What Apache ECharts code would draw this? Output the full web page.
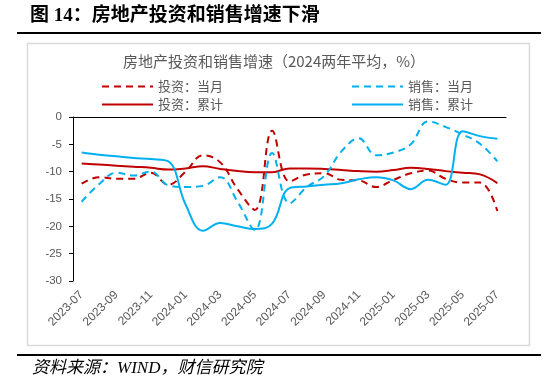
<!DOCTYPE html>
<html>
<head>
<meta charset="utf-8">
<script src="https://cdn.jsdelivr.net/npm/echarts@6/dist/echarts.min.js"></script>
<style>
html,body{margin:0;padding:0;background:#fff;}
#c{width:550px;height:385px;}
</style>
</head>
<body>
<div id="c"></div>
<script>
const months = ['2023-07','2023-08','2023-09','2023-10','2023-11','2023-12','2024-01','2024-02','2024-03','2024-04','2024-05','2024-06','2024-07','2024-08','2024-09','2024-10','2024-11','2024-12','2025-01','2025-02','2025-03','2025-04','2025-05','2025-06','2025-07'];
const invMonth = [-12.2,-11.0,-11.3,-11.3,-10.2,-12.4,-10.0,-7.0,-8.3,-13.2,-17.0,-2.5,-11.8,-10.5,-10.3,-11.5,-11.6,-12.8,-11.5,-10.3,-9.8,-11.3,-12.0,-12.0,-17.2];
const salesMonth = [-15.5,-12.3,-10.2,-10.7,-10.0,-12.5,-12.8,-12.6,-11.0,-15.5,-20.7,-6.6,-15.8,-12.8,-10.8,-6.3,-3.9,-7.0,-6.5,-5.0,-0.8,-1.8,-3.2,-4.9,-8.1];
const invCum = [-8.5,-8.7,-8.9,-9.1,-9.3,-9.6,-9.4,-9.0,-9.5,-9.9,-10.1,-10.1,-9.4,-9.4,-9.5,-9.7,-9.9,-10.0,-9.7,-9.3,-9.5,-9.9,-10.2,-10.5,-12.1];
const salesCum = [-6.5,-6.9,-7.2,-7.5,-7.7,-8.1,-16.0,-20.8,-19.4,-20.0,-20.5,-19.5,-13.0,-12.7,-12.4,-12.1,-11.4,-11.0,-11.6,-13.2,-11.5,-12.4,-2.6,-3.5,-4.0];
const seriesNames = ['投资：当月','投资：累计','销售：当月','销售：累计'];
const headingText = '图 14：房地产投资和销售增速下滑';
const chartTitle = '房地产投资和销售增速（2024两年平均，%）';
const sourceText = '资料来源：WIND，财信研究院';

const RED = '#C00000', BLUE = '#00B0F0';
const CJK = '"Noto Sans CJK SC", sans-serif';
const chart = echarts.init(document.getElementById('c'), null, {renderer:'canvas'});
const legendText = {color:'#595959', fontSize:13, fontFamily:CJK};
chart.setOption({
  animation:false,
  backgroundColor:'#fff',
  grid:{left:73, right:44, top:117, bottom:104, containLabel:false},
  graphic:[
    {type:'text', left:30, top:7, style:{text:headingText, font:'bold 19px "Liberation Serif", "Noto Sans CJK SC"', fill:'#000'}},
    {type:'line', shape:{x1:17,y1:33,x2:541,y2:33}, style:{stroke:'#000', lineWidth:2}},
    {type:'rect', shape:{x:27.5,y:43.5,width:502,height:302}, style:{fill:'none', stroke:'#d9d9d9', lineWidth:1.5}, z:-1},
    {type:'text', x:274, y:61, style:{text:chartTitle, font:'15px "Noto Sans CJK SC"', fill:'#595959', textAlign:'center', textVerticalAlign:'middle'}},
    {type:'line', shape:{x1:17,y1:355,x2:541,y2:355}, style:{stroke:'#000', lineWidth:2}},
    {type:'text', x:32, y:369, style:{text:sourceText, font:'italic 17px "Liberation Serif", "Noto Sans CJK SC"', fill:'#000', textVerticalAlign:'middle'}}
  ],
  legend:[
    {data:[seriesNames[0],seriesNames[1]], orient:'vertical', left:96, top:75, itemWidth:51, itemHeight:14, itemGap:5, textStyle:legendText, itemStyle:{opacity:0}},
    {data:[seriesNames[2],seriesNames[3]], orient:'vertical', left:346, top:75, itemWidth:51, itemHeight:14, itemGap:5, textStyle:legendText, itemStyle:{opacity:0}}
  ],
  xAxis:[
    {type:'category', data:months, position:'top', boundaryGap:true,
     axisLine:{onZero:false, lineStyle:{color:'#000', width:1}},
     axisTick:{inside:true, length:4, interval:1, lineStyle:{color:'#000'}},
     axisLabel:{show:false}, splitLine:{show:false}},
    {type:'category', data:months, position:'bottom', boundaryGap:true,
     axisLine:{show:false, onZero:false}, axisTick:{show:false},
     axisLabel:{interval:1, rotate:45, margin:12, color:'#595959', fontSize:12, fontFamily:'"Liberation Sans", sans-serif'},
     splitLine:{show:false}}
  ],
  yAxis:{type:'value', min:-30, max:0, interval:5,
    axisLine:{show:true, lineStyle:{color:'#000', width:1}},
    axisTick:{show:true, length:4, lineStyle:{color:'#000'}},
    axisLabel:{color:'#595959', fontSize:11.5, margin:11, fontFamily:'"Liberation Sans", sans-serif'},
    splitLine:{show:false}},
  series:[
    {name:seriesNames[0], type:'line', data:invMonth, smooth:0.4, symbol:'none', lineStyle:{color:RED, width:2, type:[7,5]}, itemStyle:{color:RED}},
    {name:seriesNames[1], type:'line', data:invCum, smooth:0.4, symbol:'none', lineStyle:{color:RED, width:2}, itemStyle:{color:RED}},
    {name:seriesNames[2], type:'line', data:salesMonth, smooth:0.4, symbol:'none', lineStyle:{color:BLUE, width:2, type:[7,5]}, itemStyle:{color:BLUE}},
    {name:seriesNames[3], type:'line', data:salesCum, smooth:0.4, symbol:'none', lineStyle:{color:BLUE, width:2}, itemStyle:{color:BLUE}}
  ]
});
</script>
</body>
</html>
